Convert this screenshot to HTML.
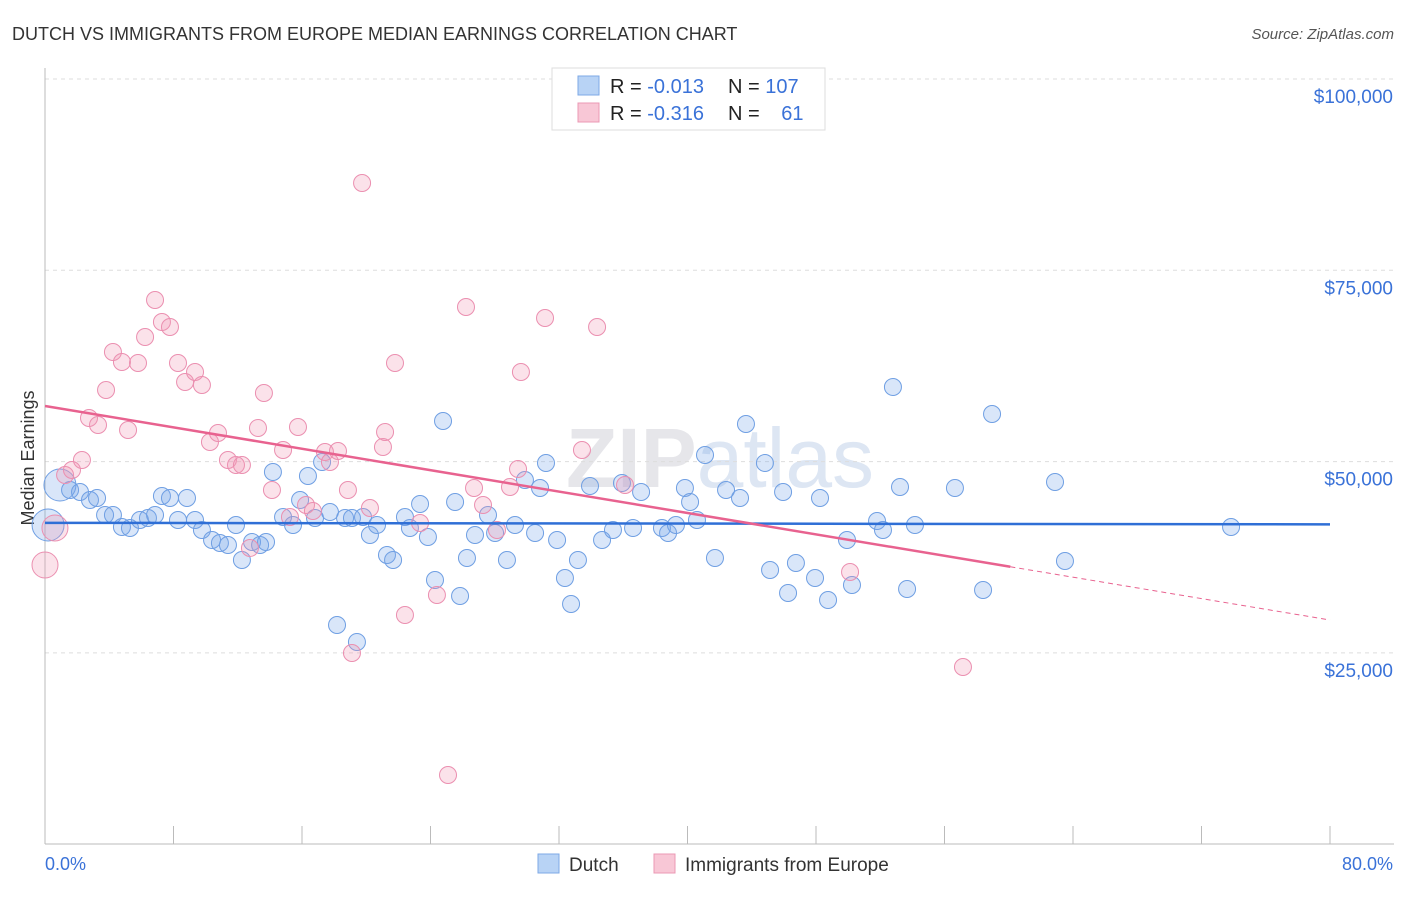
<!DOCTYPE html>
<html><head><meta charset="utf-8"><style>
body{margin:0;background:#fff;font-family:"Liberation Sans",sans-serif;}
svg text{font-family:"Liberation Sans",sans-serif;}
</style></head><body>
<svg id="chart" width="1406" height="892" xmlns="http://www.w3.org/2000/svg">
<text x="12" y="40" font-size="18" fill="#333">DUTCH VS IMMIGRANTS FROM EUROPE MEDIAN EARNINGS CORRELATION CHART</text>
<text x="1394" y="39" font-size="15" fill="#555" font-style="italic" text-anchor="end">Source: ZipAtlas.com</text>
<text x="720" y="487" font-size="84" fill="#e6e6ea" text-anchor="middle" font-weight="bold">ZIP<tspan fill="#dde6f3" font-weight="normal">atlas</tspan></text>
<text x="34" y="458" font-size="18" fill="#333" text-anchor="middle" transform="rotate(-90 34 458)">Median Earnings</text>
<g id="grid"></g><g id="pts"></g><g id="trend"></g>
<g>
<rect x="552" y="68" width="273" height="62" fill="#fff" stroke="#ddd"/>
<rect x="578" y="76" width="21" height="19" fill="#b8d3f5" stroke="#7ea8e6"/>
<rect x="578" y="103" width="21" height="19" fill="#f8c7d6" stroke="#eb98b4"/>
<text x="610" y="93" font-size="20" fill="#222">R = <tspan fill="#3a72d8">-0.013</tspan></text>
<text x="728" y="93" font-size="20" fill="#222">N = <tspan fill="#3a72d8">107</tspan></text>
<text x="610" y="120" font-size="20" fill="#222">R = <tspan fill="#3a72d8">-0.316</tspan></text>
<text x="728" y="120" font-size="20" fill="#222">N = <tspan fill="#3a72d8" dx="16">61</tspan></text>
</g>
<g>
<rect x="538" y="854" width="21" height="19" fill="#b8d3f5" stroke="#7ea8e6"/>
<text x="569" y="871" font-size="19" fill="#333">Dutch</text>
<rect x="654" y="854" width="21" height="19" fill="#f8c7d6" stroke="#eb98b4"/>
<text x="685" y="871" font-size="19" fill="#333">Immigrants from Europe</text>
</g>
<text x="45" y="870" font-size="18" fill="#3a72d8">0.0%</text>
<text x="1393" y="870" font-size="18" fill="#3a72d8" text-anchor="end">80.0%</text>
</svg>
<script>
const yTicks=[25000,50000,75000,100000];
const yTickLabels=["$25,000","$50,000","$75,000","$100,000"];
const xTicks=[0,8,16,24,32,40,48,56,64,72,80];
const bluePx=[[48,525],[60,485],[70,490],[80,492],[90,500],[97,498],[105,515],[113,515],[122,527],[130,528],[140,520],[148,518],[155,515],[162,496],[170,498],[178,520],[187,498],[195,520],[202,530],[212,540],[220,543],[228,545],[236,525],[242,560],[252,542],[260,545],[266,542],[273,472],[283,517],[293,525],[300,500],[308,476],[315,518],[322,462],[330,512],[337,625],[345,518],[352,518],[357,642],[363,517],[370,535],[377,525],[387,555],[393,560],[405,517],[410,528],[420,504],[428,537],[435,580],[443,421],[455,502],[460,596],[467,558],[475,535],[488,515],[495,533],[507,560],[515,525],[525,480],[535,533],[540,488],[546,463],[557,540],[565,578],[571,604],[578,560],[590,486],[602,540],[613,530],[622,483],[633,528],[641,492],[662,528],[668,533],[676,525],[685,488],[690,502],[697,520],[705,455],[715,558],[726,490],[740,498],[746,424],[765,463],[770,570],[783,492],[788,593],[796,563],[815,578],[820,498],[828,600],[847,540],[852,585],[877,521],[883,530],[893,387],[900,487],[907,589],[915,525],[955,488],[983,590],[992,414],[1055,482],[1065,561],[1231,527]];
const pinkPx=[[45,565],[55,528],[65,475],[72,470],[82,460],[89,418],[98,425],[106,390],[113,352],[122,362],[128,430],[138,363],[145,337],[155,300],[162,322],[170,327],[178,363],[185,382],[195,372],[202,385],[210,442],[218,433],[228,460],[236,465],[242,465],[250,548],[258,428],[264,393],[272,490],[283,450],[290,517],[298,427],[306,505],[313,511],[325,452],[330,462],[338,451],[348,490],[352,653],[362,183],[370,508],[383,447],[385,432],[395,363],[405,615],[420,523],[437,595],[448,775],[466,307],[474,488],[483,505],[497,530],[510,487],[518,469],[521,372],[545,318],[582,450],[597,327],[625,485],[850,572],[963,667]];
const conv=p=>[+((p[0]-45)/1285*80).toFixed(2),Math.round(100000-(p[1]-79)/191.3*25000)];
const dutchX=bluePx.map(p=>conv(p)[0]), dutchY=bluePx.map(p=>conv(p)[1]);
const immX=pinkPx.map(p=>conv(p)[0]), immY=pinkPx.map(p=>conv(p)[1]);
const dutchTrend=[42000,41800];
const immTrend=[57270,29300];
const immSolidEnd=60.1;
const NS="http://www.w3.org/2000/svg";
const X=v=>45+v/80*1285, Y=v=>79+(100000-v)/25000*191.3;
function mk(t,a,parent){const e=document.createElementNS(NS,t);for(const k in a)e.setAttribute(k,a[k]);document.getElementById(parent).appendChild(e);return e;}
yTicks.forEach((t,i)=>{
 const l=mk('line',{x1:45,x2:1394,y1:Y(t),y2:Y(t),stroke:'#ddd','stroke-dasharray':'4,4'},'grid');
 
 
 const tx=mk('text',{x:1393,y:Y(t)+24,'font-size':19,fill:'#3a72d8','text-anchor':'end'},'grid');
 tx.textContent=yTickLabels[i];
 
 
});
mk('line',{x1:45,x2:45,y1:68,y2:844,stroke:'#bbb'},'grid');
mk('line',{x1:45,x2:1394,y1:844,y2:844,stroke:'#bbb'},'grid');
xTicks.forEach(t=>{
 const l=mk('line',{x1:X(t),x2:X(t),y1:826,y2:844,stroke:'#bbb'},'grid');
 
 
});
function pts(xs,ys,fill,stroke,name){xs.forEach((x,i)=>{
 const r=(i<2)?(name==='dutch-point'?16:13):8.5;
 const c=mk('circle',{cx:X(x),cy:Y(ys[i]),r:r,fill:fill,stroke:stroke,'stroke-width':1},'pts');
 
 
});}
pts(dutchX,dutchY,'rgba(120,165,235,0.28)','#6f9fe3','dutch-point');
pts(immX,immY,'rgba(240,150,180,0.28)','#eb8fb0','immigrant-point');
const bt=mk('line',{x1:X(0),x2:X(80),y1:Y(dutchTrend[0]),y2:Y(dutchTrend[1]),stroke:'#2f6fd6','stroke-width':2.5},'trend');


const py=x=>immTrend[0]+(immTrend[1]-immTrend[0])*x/80;
const pt=mk('line',{x1:X(0),x2:X(immSolidEnd),y1:Y(py(0)),y2:Y(py(immSolidEnd)),stroke:'#e8628f','stroke-width':2.5},'trend');


const pd=mk('line',{x1:X(immSolidEnd),x2:X(80),y1:Y(py(immSolidEnd)),y2:Y(py(80)),stroke:'#e8628f','stroke-width':1,'stroke-dasharray':'5,4'},'trend');


</script>
</body></html>
